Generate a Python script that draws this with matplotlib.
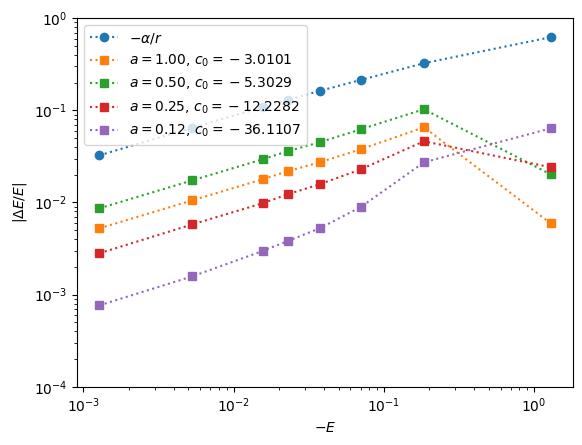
import numpy as np
import matplotlib.pyplot as plt

energies = [0.00128, 0.00533, 0.0156, 0.0229, 0.0374, 0.0703, 0.185, 1.29]

err_coulomb = [0.0325, 0.065, 0.108, 0.130, 0.1625, 0.214, 0.325, 0.622]
err_a100 = [0.00524, 0.01056, 0.01786, 0.0218, 0.0273, 0.0378, 0.0655, 0.00594]
err_a050 = [0.00864, 0.0174, 0.0294, 0.0360, 0.0450, 0.0623, 0.1028, 0.0202]
err_a025 = [0.00281, 0.00579, 0.0098, 0.01227, 0.01575, 0.0229, 0.0462, 0.0241]
err_a012 = [0.000764, 0.00158, 0.00297, 0.00381, 0.00524, 0.00893, 0.0273, 0.0638]

labels = [
    r'$-\alpha/r$',
    r'$a = 1.00$, $c_0 = \:-\:3.0101$',
    r'$a = 0.50$, $c_0 = \:-\:5.3029$',
    r'$a = 0.25$, $c_0 = \:-\:12.2282$',
    r'$a = 0.12$, $c_0 = \:-\:36.1107$',
]

fig = plt.figure(figsize=(5.82, 4.45), dpi=100)
ax = fig.add_axes([0.1328, 0.131, 0.8522, 0.828])

ax.plot(energies, err_coulomb, 'o:', label=labels[0])
for errs, lab in zip([err_a100, err_a050, err_a025, err_a012], labels[1:]):
    ax.plot(energies, errs, 's:', label=lab)

ax.set_xscale('log')
ax.set_yscale('log')
ax.set_xlim(10**-3.04, 10**0.261)
ax.set_ylim(1e-4, 1)
ax.set_xlabel(r'$-E$')
ax.set_ylabel(r'$|\Delta E/E|$')
ax.legend(loc='upper left')

fig.savefig('out.png', dpi=100)
